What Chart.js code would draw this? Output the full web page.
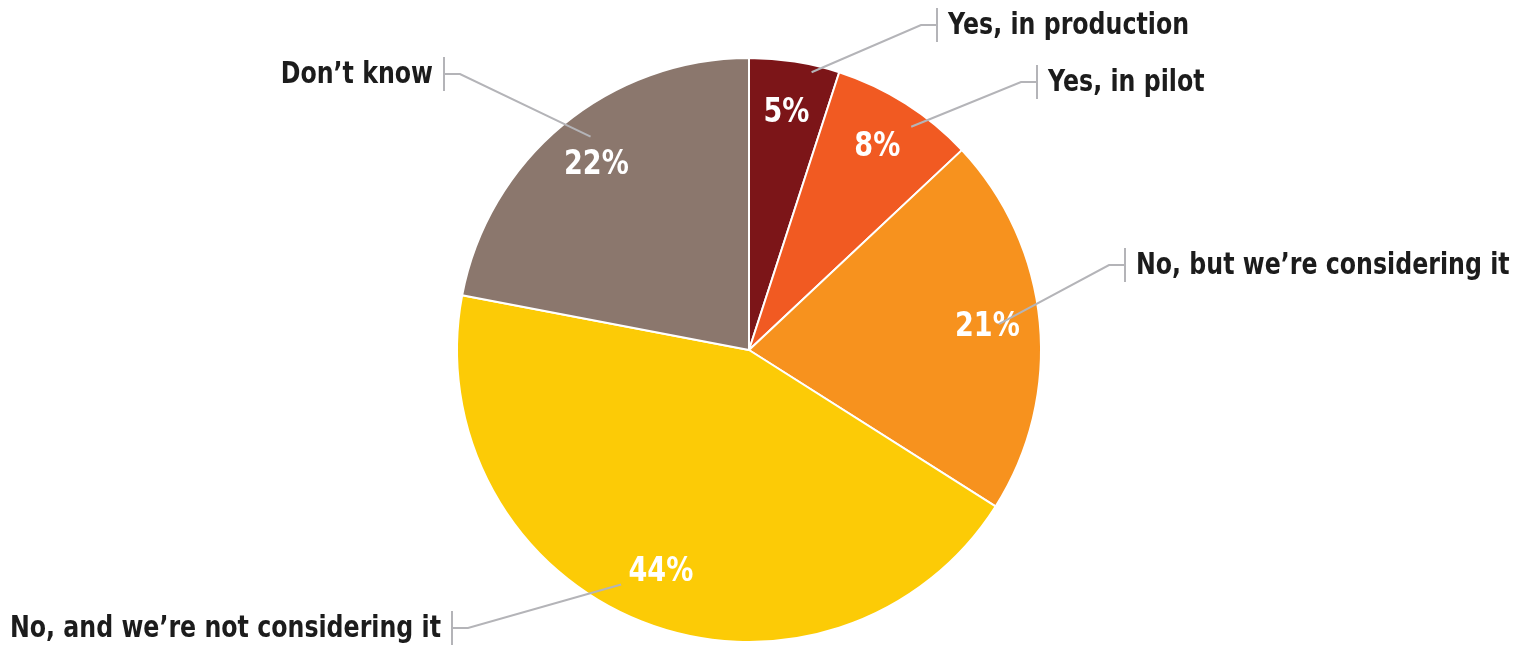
<!DOCTYPE html>
<html>
<head>
<meta charset="utf-8">
<script src="https://cdn.jsdelivr.net/npm/chart.js@4/dist/chart.umd.min.js"></script>
<style>
  html, body { margin: 0; padding: 0; background: #fff; }
  #wrap { width: 1518px; height: 646px; position: relative; }
</style>
</head>
<body>
<div id="wrap"><canvas id="pie"></canvas></div>
<script>
// data
const categories = ['Yes, in production', 'Yes, in pilot', 'No, but we\u2019re considering it', 'No, and we\u2019re not considering it', 'Don\u2019t know'];
const shares = [5, 8, 21, 44, 22];
const sliceColors = ['#7c1518', '#f15a22', '#f7921e', '#fccb06', '#8b776d'];

// callout layout (text anchor, side, leader tip offset from slice middle)
const callouts = [
    { x: 937, y: 25, side: 'right', tipAngle: 3.7, tipR: 0.975 },
    { x: 1037, y: 82, side: 'right', tipAngle: 3.6, tipR: 0.945 },
    { x: 1125, y: 265, side: 'right', tipAngle: -0.5, tipR: 0.86 },
    { x: 452, y: 628, side: 'left', tipAngle: 7, tipR: 0.915 },
    { x: 444, y: 74, side: 'left', tipAngle: 3, tipR: 0.91 }
];

const labelFont = 'bold 30px "DejaVu Sans", sans-serif';
const pctFont = 'bold 33px "DejaVu Sans", sans-serif';

// draws text squeezed horizontally to mimic a condensed face
function squeezedText(ctx, text, x, y, align, sx) {
    ctx.save();
    ctx.translate(x, y);
    ctx.scale(sx, 1);
    ctx.textAlign = align;
    ctx.fillText(text, 0, 0);
    ctx.restore();
}

const calloutPlugin = {
    id: 'callouts',
    afterDatasetsDraw(chart) {
        const ctx = chart.ctx;
        const arcs = chart.getDatasetMeta(0).data;
        ctx.save();
        ctx.textBaseline = 'middle';
        arcs.forEach((arc, i) => {
            const { x, y, startAngle, endAngle, outerRadius } = arc.getProps(['x', 'y', 'startAngle', 'endAngle', 'outerRadius'], true);
            const mid = (startAngle + endAngle) / 2;

            // percent inside the slice
            const pr = outerRadius * 0.82;
            ctx.font = pctFont;
            ctx.fillStyle = '#ffffff';
            squeezedText(ctx, shares[i] + '%', x + Math.cos(mid) * pr, y + Math.sin(mid) * pr, 'center', 0.82);

            // leader line
            const c = callouts[i];
            const ta = mid + c.tipAngle * Math.PI / 180;
            const tx = x + Math.cos(ta) * outerRadius * c.tipR;
            const ty = y + Math.sin(ta) * outerRadius * c.tipR;
            const dir = c.side === 'right' ? -1 : 1;
            ctx.strokeStyle = '#b4b4b8';
            ctx.lineWidth = 2;
            ctx.beginPath();
            ctx.moveTo(tx, ty);
            ctx.lineTo(c.x + dir * 16, c.y);
            ctx.lineTo(c.x, c.y);
            ctx.stroke();
            ctx.beginPath();
            ctx.moveTo(c.x, c.y - 17);
            ctx.lineTo(c.x, c.y + 17);
            ctx.stroke();

            // category text
            ctx.font = labelFont;
            ctx.fillStyle = '#1c1c1c';
            squeezedText(ctx, categories[i], c.x - dir * 11, c.y + 1, c.side === 'right' ? 'left' : 'right', 0.79);
        });
        ctx.restore();
    }
};

new Chart(document.getElementById('pie'), {
    type: 'pie',
    data: {
        labels: categories,
        datasets: [{
            data: shares,
            backgroundColor: sliceColors,
            borderColor: '#ffffff',
            borderWidth: 2
        }]
    },
    options: {
        responsive: true,
        maintainAspectRatio: false,
        animation: false,
        layout: { padding: { top: 57, bottom: 3, left: 0, right: 20 } },
        plugins: {
            legend: { display: false },
            tooltip: { enabled: false }
        }
    },
    plugins: [calloutPlugin]
});
</script>
</body>
</html>
